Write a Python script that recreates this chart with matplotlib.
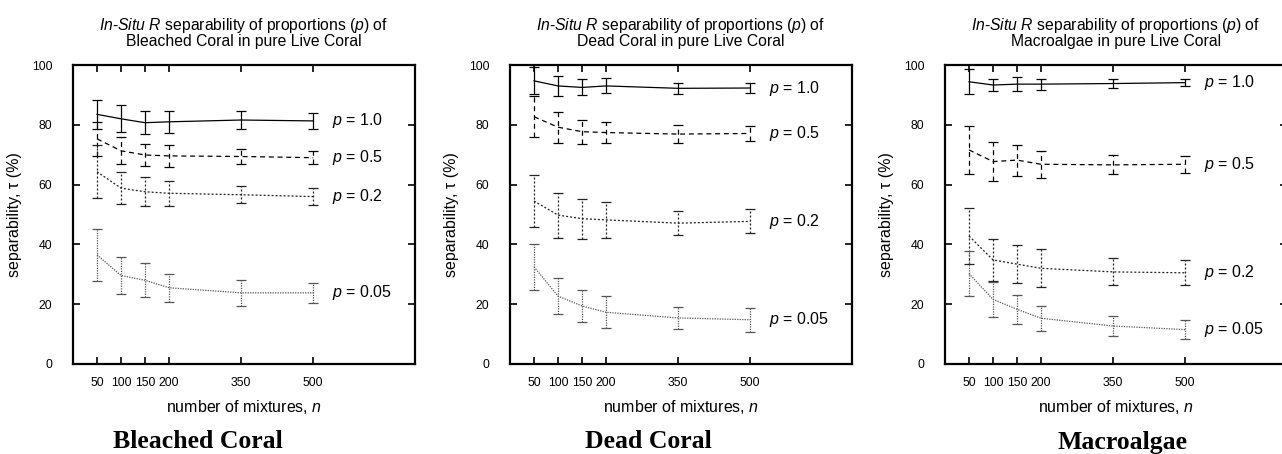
import numpy as np
import matplotlib
matplotlib.use("Agg")
import matplotlib.pyplot as plt

plt.rcParams["font.family"] = ["Liberation Sans", "DejaVu Sans"]
plt.rcParams["mathtext.fontset"] = "custom"
plt.rcParams["mathtext.rm"] = "Liberation Sans"
plt.rcParams["mathtext.it"] = "Liberation Sans:italic"

# number of mixtures
n = [50, 100, 150, 200, 350, 500]
p_labels = ["1.0", "0.5", "0.2", "0.05"]
classes = ["Bleached Coral", "Dead Coral", "Macroalgae"]

# Bleached Coral
bc_mean = [
    [83.5, 82.0, 80.7, 81.0, 81.6, 81.3],
    [75.3, 71.3, 69.9, 69.6, 69.4, 69.0],
    [64.3, 58.8, 57.6, 57.1, 56.6, 56.0],
    [36.5, 29.6, 28.0, 25.5, 23.8, 23.8],
]
bc_err = [
    [4.8, 4.5, 3.8, 3.7, 2.9, 2.6],
    [5.8, 4.5, 3.7, 3.6, 2.5, 2.1],
    [8.8, 5.4, 4.9, 4.1, 2.8, 2.8],
    [8.8, 6.1, 5.7, 4.6, 4.4, 3.4],
]

# Dead Coral
dc_mean = [
    [94.7, 93.0, 92.5, 93.0, 92.2, 92.3],
    [82.7, 79.2, 77.7, 77.4, 76.9, 77.1],
    [54.5, 49.8, 48.6, 48.2, 47.1, 47.7],
    [32.5, 22.7, 19.4, 17.3, 15.4, 14.8],
]
dc_err = [
    [4.5, 3.3, 2.7, 2.5, 1.9, 1.8],
    [6.8, 5.2, 4.0, 3.5, 2.9, 2.5],
    [8.8, 7.5, 6.7, 5.9, 4.0, 4.0],
    [7.8, 6.1, 5.2, 5.4, 3.8, 4.0],
]

# Macroalgae
ma_mean = [
    [94.4, 93.3, 93.6, 93.6, 93.8, 94.1],
    [71.6, 67.7, 68.2, 66.8, 66.6, 66.8],
    [42.8, 34.8, 33.4, 32.0, 30.8, 30.5],
    [30.2, 21.6, 18.3, 15.3, 12.7, 11.5],
]
ma_err = [
    [4.1, 2.1, 2.4, 1.8, 1.5, 1.1],
    [7.9, 6.4, 5.2, 4.5, 3.2, 2.9],
    [9.4, 7.0, 6.3, 6.3, 4.5, 4.2],
    [7.5, 5.8, 4.9, 4.2, 3.5, 3.3],
]

means = [bc_mean, dc_mean, ma_mean]
errs = [bc_err, dc_err, ma_err]

styles = ["-", (0, (4, 3)), (0, (1.6, 1.6)), (0, (1, 1))]
colors = ["black", "black", "#222222", "#555555"]

fig = plt.figure(figsize=(12.82, 4.54), dpi=100)
lefts = [73, 510, 945]
caption_x = [198, 648, 1123]

for k in range(3):
    ax = fig.add_axes([lefts[k] / 1282, 90 / 454, 342 / 1282, 299 / 454])
    for j in range(4):
        eb = ax.errorbar(n, means[k][j], yerr=errs[k][j], color=colors[j],
                         linestyle=styles[j], linewidth=0.9, elinewidth=0.9,
                         capsize=3.5, capthick=0.9)
        eb[2][0].set_linestyle(styles[j])
        ax.text(540, means[k][j][-1], r"$\mathit{p}$ = " + p_labels[j],
                fontsize=11.5, va="center", ha="left")
    ax.set_xlim(0, 712)
    ax.set_ylim(0, 100)
    ax.set_xticks(n)
    ax.set_yticks([0, 20, 40, 60, 80, 100])
    ax.tick_params(direction="in", top=True, right=True, length=5, width=1.2,
                   labelsize=8.8)
    ax.tick_params(axis="y", pad=15)
    ax.tick_params(axis="x", pad=9)
    for s in ax.spines.values():
        s.set_linewidth(1.6)
    ax.set_xlabel(r"number of mixtures, $\mathit{n}$", fontsize=11.5, labelpad=7)
    ax.set_ylabel(r"separability, τ (%)", fontsize=11.5, labelpad=7)
    ax.set_title(r"$\mathit{In}$-$\mathit{Situ}$ $\mathit{R}$ separability of proportions ($\mathit{p}$) of"
                 + "\n" + classes[k] + " in pure Live Coral",
                 fontsize=11.3, linespacing=0.9, pad=14)
    fig.text(caption_x[k] / 1282, 12 / 454, classes[k], ha="center", va="center",
             fontsize=18.5, fontweight="bold", family="Liberation Serif")

fig.savefig("out.png", dpi=100)
